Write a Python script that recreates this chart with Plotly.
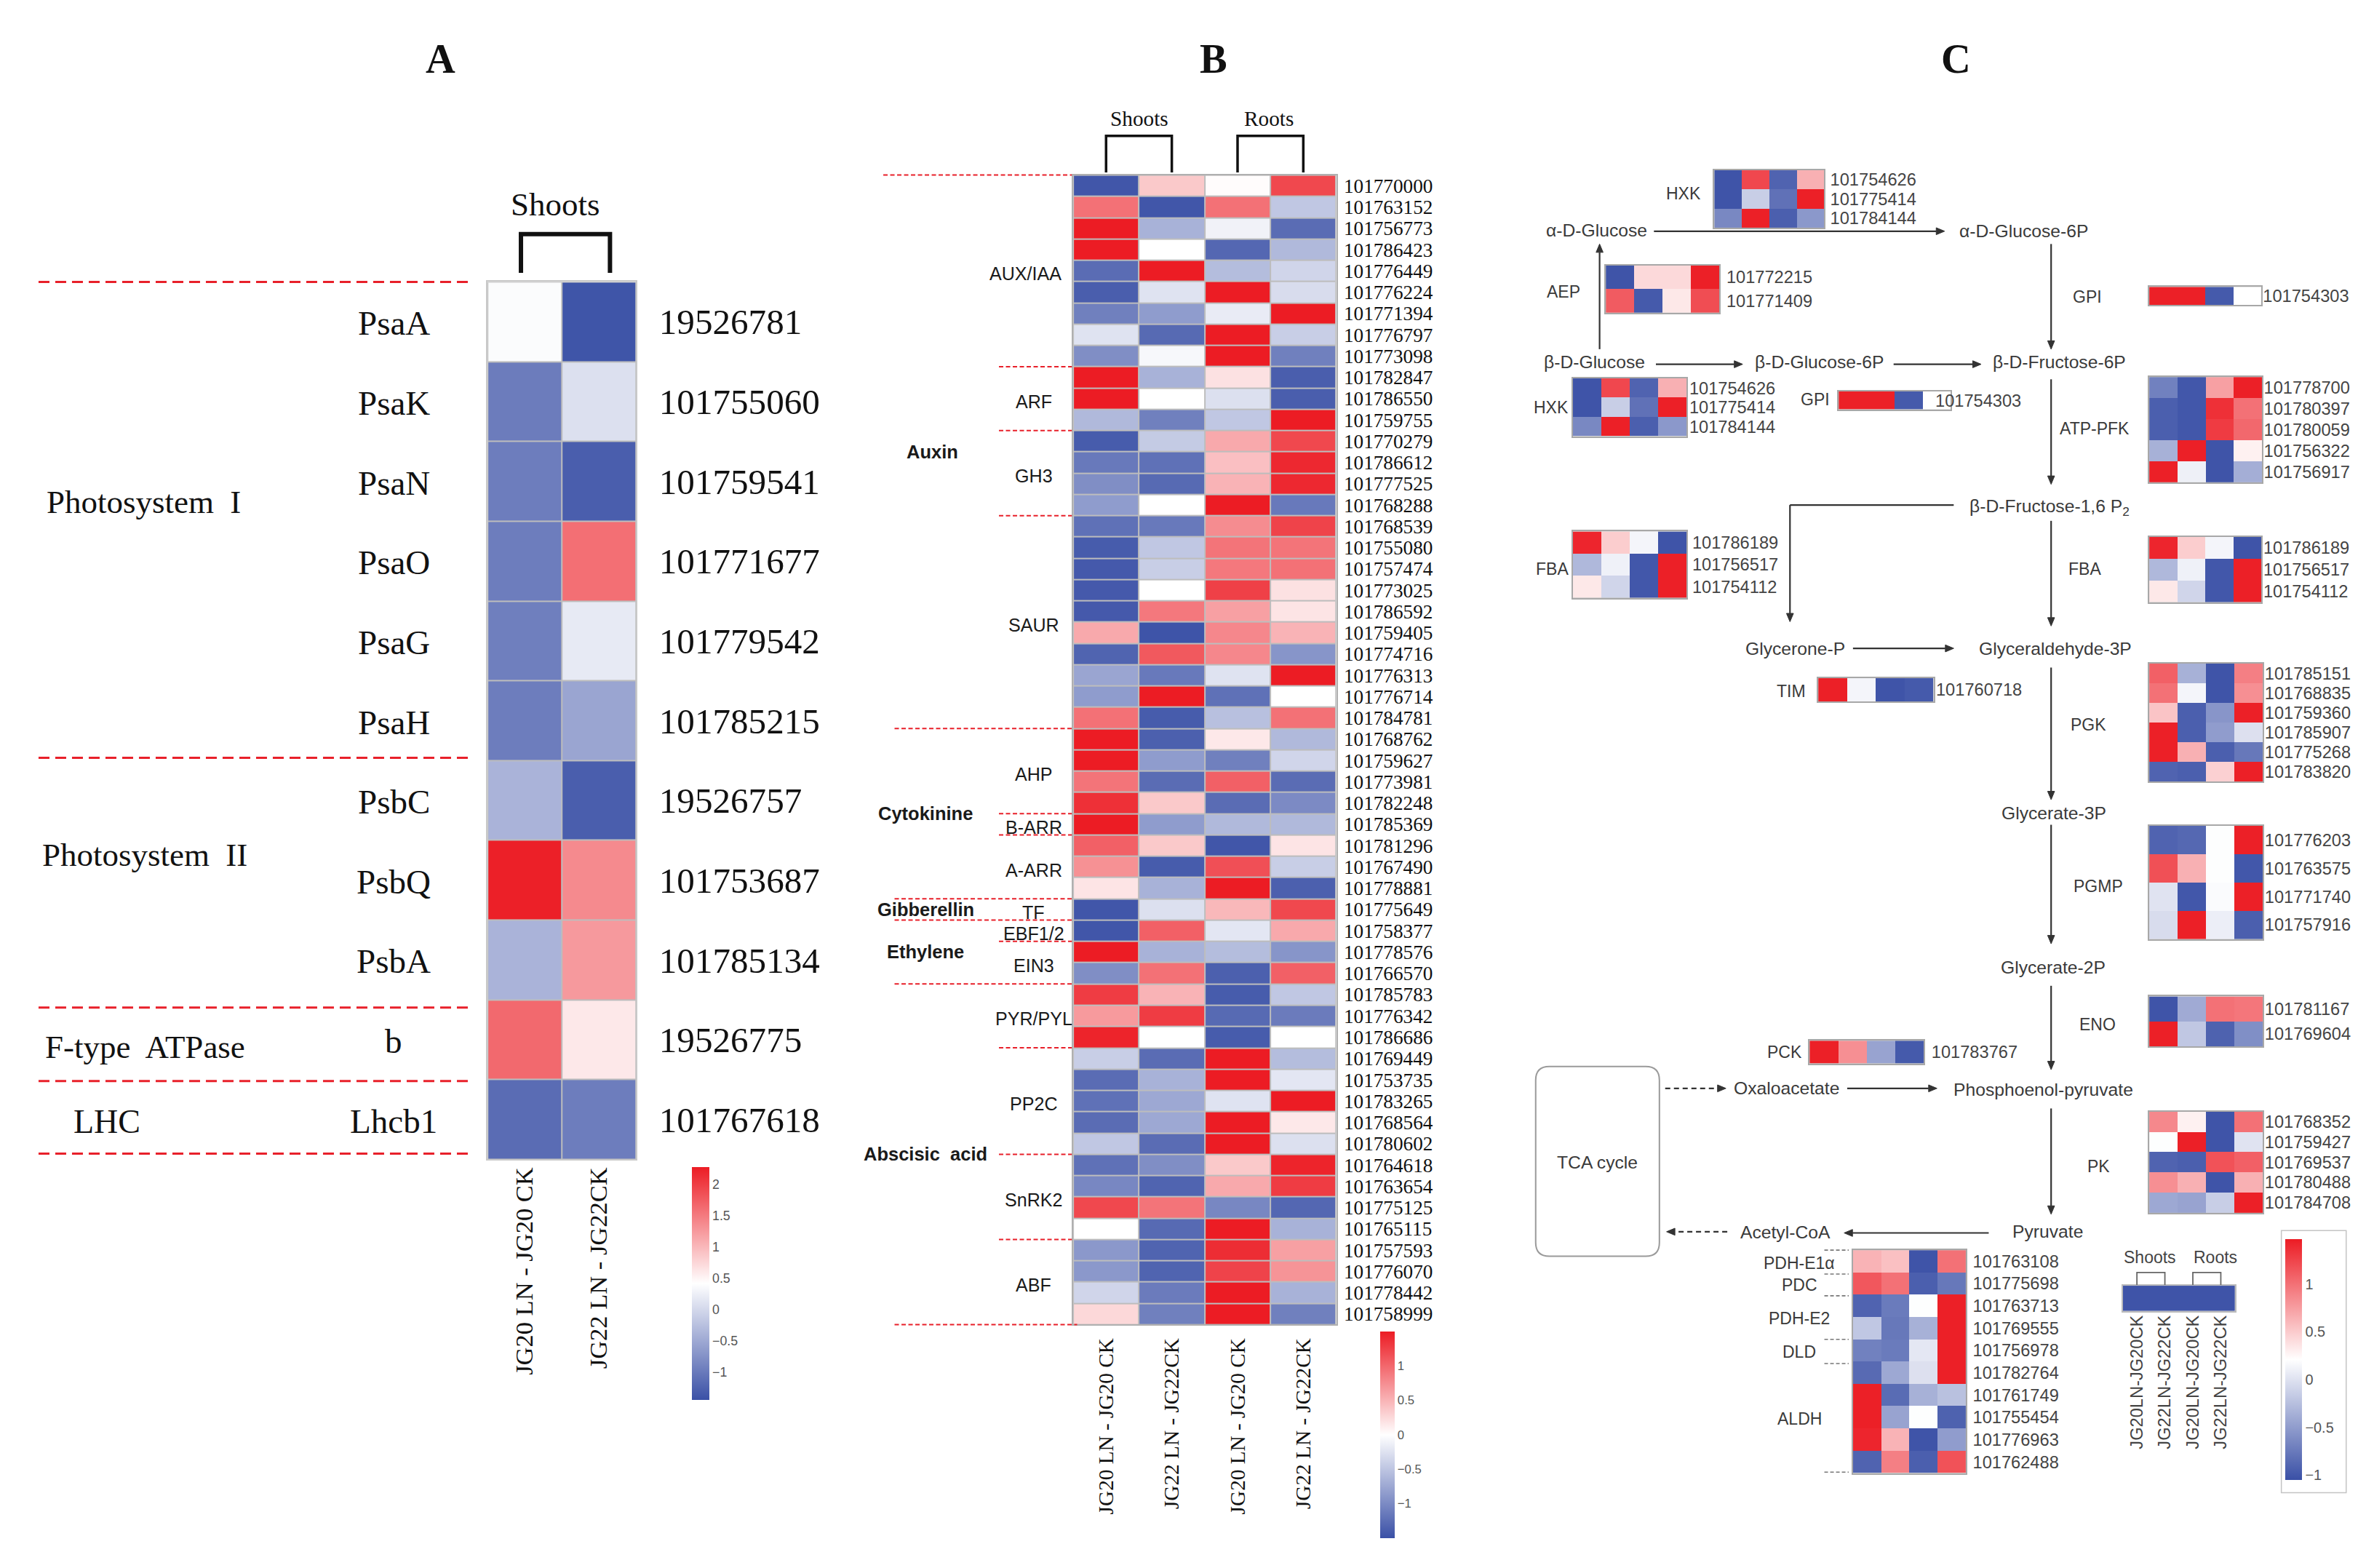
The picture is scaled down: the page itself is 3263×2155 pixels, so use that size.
import plotly.graph_objects as go

# ---------------- DATA ----------------
# Panel A
A_genes = ["PsaA", "PsaK", "PsaN", "PsaO", "PsaG", "PsaH", "PsbC", "PsbQ", "PsbA", "b", "Lhcb1"]
A_ids = ["19526781", "101755060", "101759541", "101771677", "101779542", "101785215",
         "19526757", "101753687", "101785134", "19526775", "101767618"]
A_cols = ["JG20 LN - JG20 CK", "JG22 LN - JG22CK"]
A_jg20 = [0.38, -0.98, -0.97, -0.97, -0.95, -0.97, -0.39, 2.25, -0.39, 1.65, -1.15]
A_jg22 = [-1.40, 0.08, -1.30, 1.60, 0.19, -0.54, -1.30, 1.38, 1.25, 0.60, -0.97]
A_cbar_ticks = [2, 1.5, 1, 0.5, 0, -0.5, -1]

# Panel B
B_ids = ["101770000", "101763152", "101756773", "101786423", "101776449", "101776224", "101771394",
         "101776797", "101773098", "101782847", "101786550", "101759755", "101770279", "101786612",
         "101777525", "101768288", "101768539", "101755080", "101757474", "101773025", "101786592",
         "101759405", "101774716", "101776313", "101776714", "101784781", "101768762", "101759627",
         "101773981", "101782248", "101785369", "101781296", "101767490", "101778881", "101775649",
         "101758377", "101778576", "101766570", "101785783", "101776342", "101786686", "101769449",
         "101753735", "101783265", "101768564", "101780602", "101764618", "101763654", "101775125",
         "101765115", "101757593", "101776070", "101778442", "101758999"]
B_cols = ["JG20 LN - JG20 CK", "JG22 LN - JG22CK", "JG20 LN - JG20 CK", "JG22 LN - JG22CK"]
B_shoot_jg20 = [-1.45, 0.94, 1.5, 1.5, -1.26, -1.38, -1.09, -0.24, -0.97, 1.5, 1.5, -0.6, -1.4, -1.15,
                -0.97, -0.85, -1.22, -1.4, -1.42, -1.42, -1.42, 0.57, -1.33, -0.77, -0.85, 0.94, 1.5,
                1.5, 0.92, 1.37, 1.5, 1.05, 0.73, 0.18, -1.45, -1.45, 1.5, -0.97, 1.29, 0.67, 1.45,
                -0.42, -1.26, -1.22, -1.26, -0.48, -1.22, -1.03, 1.21, 0.0, -0.88, -0.88, -0.36, 0.26]
B_shoot_jg22 = [0.36, -1.45, -0.66, 0.0, 1.5, -0.24, -0.85, -1.28, -0.06, -0.66, 0.0, -1.09, -0.45,
                -1.22, -1.28, 0.0, -1.15, -0.48, -0.42, 0.0, 0.89, -1.47, 1.1, -1.15, 1.5, -1.4, -1.36,
                -0.85, -1.26, 0.36, -0.85, 0.36, -1.4, -0.66, -0.27, 1.05, -0.66, 0.94, 0.5, 1.29, 0.0,
                -1.26, -0.66, -0.75, -0.75, -1.26, -0.97, -1.33, 0.92, -1.28, -1.33, -1.33, -1.13, -1.09]
B_root_jg20 = [0.02, 0.94, -0.11, -1.3, -0.57, 1.5, -0.17, 1.5, 1.5, 0.2, -0.27, -0.48, 0.57, 0.42,
               0.5, 1.5, 0.76, 0.92, 0.89, 1.26, 0.63, 0.79, 0.79, -0.24, -1.22, -0.54, 0.15, -1.09,
               1.05, -1.26, -0.6, -1.45, 1.16, 1.5, 0.47, -0.21, -0.57, -1.36, -1.4, -1.28, -1.4, 1.5,
               1.5, -0.24, 1.5, 1.5, 0.36, 0.57, -1.03, 1.5, 1.39, 1.24, 1.5, 1.5]
B_root_jg22 = [1.21, -0.48, -1.26, -0.6, -0.36, -0.3, 1.5, -0.42, -1.09, -1.38, -1.38, 1.5, 1.21, 1.42,
               1.42, -1.15, 1.24, 0.92, 0.94, 0.2, 0.18, 0.5, -0.91, 1.5, 0.0, 0.94, -0.6, -0.36, -1.26,
               -1.0, -0.6, 0.18, -0.42, -1.36, 1.21, 0.57, -0.91, 1.05, -0.48, -1.13, 0.0, -0.57, -0.21,
               1.5, 0.15, -0.27, 1.45, 1.29, -1.3, -0.66, 0.63, 0.71, -0.66, -1.09]
# families: (name, first row, last row, hormone class)
B_families = [("AUX/IAA", 0, 8, "Auxin"), ("ARF", 9, 11, "Auxin"), ("GH3", 12, 15, "Auxin"),
              ("SAUR", 16, 25, "Auxin"), ("AHP", 26, 29, "Cytokinine"), ("B-ARR", 30, 30, "Cytokinine"),
              ("A-ARR", 31, 33, "Cytokinine"), ("TF", 34, 34, "Gibberellin"), ("EBF1/2", 35, 35, "Ethylene"),
              ("EIN3", 36, 37, "Ethylene"), ("PYR/PYL", 38, 40, "Abscisic  acid"),
              ("PP2C", 41, 45, "Abscisic  acid"), ("SnRK2", 46, 49, "Abscisic  acid"),
              ("ABF", 50, 53, "Abscisic  acid")]
B_cbar_ticks = [1, 0.5, 0, -0.5, -1]

# Panel C (columns: JG20 shoots, JG22 shoots, JG20 roots, JG22 roots)
HXK_ids = ["101754626", "101775414", "101784144"]
HXK_vals = [[-1.02, 1.23, -0.91, 0.65], [-1.02, -0.14, -0.81, 1.45], [-0.65, 1.45, -0.94, -0.53]]
AEP_ids = ["101772215", "101771409"]
AEP_vals = [[-1.02, 0.42, 0.42, 1.45], [1.12, -0.98, 0.34, 1.20]]
GPI_ids = ["101754303"]
GPI_vals = [[1.45, 1.45, -0.98, 0.21]]
PFK_ids = ["101778700", "101780397", "101780059", "101756322", "101756917"]
PFK_vals = [[-0.70, -1.0, 0.74, 1.45], [-0.94, -1.0, 1.36, 1.0], [-0.94, -1.0, 1.30, 1.05],
            [-0.35, 1.45, -1.02, 0.29], [1.45, 0.10, -1.02, -0.37]]
FBA_ids = ["101786189", "101756517", "101754112"]
FBA_vals = [[1.42, 0.49, 0.14, -1.02], [-0.30, 0.11, -1.0, 1.45], [0.34, -0.09, -1.0, 1.45]]
TIM_ids = ["101760718"]
TIM_vals = [[1.45, 0.14, -1.02, -0.98]]
PGK_ids = ["101785151", "101768835", "101759360", "101785907", "101775268", "101783820"]
PGK_vals = [[1.09, -0.35, -1.02, 0.92], [1.0, 0.14, -1.02, 0.83], [0.54, -0.94, -0.55, 1.45],
            [1.45, -0.94, -0.50, -0.01], [1.45, 0.65, -0.94, -0.76], [-0.91, -0.94, 0.47, 1.45]]
PGMP_ids = ["101776203", "101763575", "101771740", "101757916"]
PGMP_vals = [[-0.91, -0.88, 0.20, 1.45], [1.18, 0.65, 0.20, -1.0], [0.01, -1.0, 0.18, 1.45],
             [-0.04, 1.45, 0.09, -0.94]]
ENO_ids = ["101781167", "101769604"]
ENO_vals = [[-1.02, -0.40, 1.0, 0.97], [1.45, -0.19, -0.92, -0.60]]
PK_ids = ["101768352", "101759427", "101769537", "101780488", "101784708"]
PK_vals = [[0.87, 0.29, -1.02, 1.0], [0.20, 1.45, -1.02, 0.01], [-0.91, -0.94, 1.17, 1.09],
           [0.83, 0.65, -1.02, 0.65], [-0.42, -0.45, -0.14, 1.45]]
PCK_ids = ["101783767"]
PCK_vals = [[1.45, 0.83, -0.45, -0.98]]
PDH_ids = ["101763108", "101775698", "101763713", "101769555", "101756978", "101782764",
           "101761749", "101755454", "101776963", "101762488"]
PDH_vals = [[0.63, 0.56, -1.02, 1.0], [1.14, 1.0, -0.94, -0.76], [-0.91, -0.74, 0.20, 1.45],
            [-0.19, -0.76, -0.35, 1.45], [-0.70, -0.74, 0.04, 1.45], [-0.86, -0.42, -0.01, 1.45],
            [1.45, -0.85, -0.35, -0.24], [1.45, -0.45, 0.20, -0.92], [1.42, 0.63, -1.02, -0.50],
            [-0.91, 0.92, -0.94, 1.17]]
PDH_groups = [("PDH-E1α", 0, 0), ("PDC", 1, 1), ("PDH-E2", 2, 3), ("DLD", 4, 4), ("ALDH", 5, 9)]
C_legend_cols = ["JG20LN-JG20CK", "JG22LN-JG22CK", "JG20LN-JG20CK", "JG22LN-JG22CK"]
C_legend_vals = [[-1.02, -1.02, -1.02, -1.02]]
C_cbar_ticks = [1, 0.5, 0, -0.5, -1]

# ---------------- HELPERS ----------------
S = 3263 / 1560.0
H = 2155 / S


def fx(x):
    return x / 1560.0


def fy(y):
    return 1 - y / H


def fs(d):
    return d * S


BWR = [[0, '#3a50a6'], [0.5, '#ffffff'], [1, '#ec1c24']]
SERIF = 'Liberation Serif, Times New Roman, serif'
SANS = 'Liberation Sans, Arial, sans-serif'
CTXT = '#3a3a3a'
ACOL = '#333333'

fig = go.Figure()
axes = {}
ann = []
shapes = []
counter = [0]


def heat(z, box, zr, ids=None, idfont=None, idstand=0, xt=None, xfont=None, xstand=0,
         gap=0, frame='#a8a8a8', framew=1.5, cbar=None):
    counter[0] += 1
    k = counter[0]
    xa = 'x' if k == 1 else 'x%d' % k
    ya = 'y' if k == 1 else 'y%d' % k
    xkey = 'xaxis' if k == 1 else 'xaxis%d' % k
    ykey = 'yaxis' if k == 1 else 'yaxis%d' % k
    nr, nc = len(z), len(z[0])
    x0, y0, x1, y1 = box
    tr = go.Heatmap(z=z, x=list(range(nc)), y=list(range(nr)), colorscale=BWR,
                    zmin=zr[0], zmax=zr[1], xgap=gap, ygap=gap,
                    showscale=cbar is not None, hoverinfo='skip', xaxis=xa, yaxis=ya)
    if cbar is not None:
        tr.colorbar = cbar
    fig.add_trace(tr)
    xd = dict(domain=[fx(x0), fx(x1)], range=[-0.5, nc - 0.5], anchor=ya, showgrid=False,
              zeroline=False, ticks='', showline=True, mirror=True, linecolor=frame,
              linewidth=framew, fixedrange=True, automargin=False,
              showticklabels=xt is not None)
    if xt is not None:
        xd.update(tickmode='array', tickvals=list(range(nc)), ticktext=xt, tickangle=-90,
                  tickfont=xfont, ticklabelstandoff=int(round(xstand)), side='bottom')
    yd = dict(domain=[fy(y1), fy(y0)], range=[nr - 0.5, -0.5], anchor=xa, showgrid=False,
              zeroline=False, ticks='', showline=True, mirror=True, linecolor=frame,
              linewidth=framew, fixedrange=True, automargin=False, side='right',
              showticklabels=ids is not None)
    if ids is not None:
        yd.update(tickmode='array', tickvals=list(range(nr)), ticktext=ids, tickfont=idfont,
                  ticklabelstandoff=int(round(idstand)))
    axes[xkey] = xd
    axes[ykey] = yd


def text(x, y, s, size, font=SANS, color='#222', xanchor='center', yanchor='middle'):
    ann.append(dict(x=fx(x), y=fy(y), xref='paper', yref='paper', text=s, showarrow=False,
                    xanchor=xanchor, yanchor=yanchor,
                    font=dict(family=font, size=fs(size), color=color)))


def line(x0, y0, x1, y1, color, w, dash=None):
    d = dict(color=color, width=w)
    if dash:
        d['dash'] = dash
    shapes.append(dict(type='line', xref='paper', yref='paper', x0=fx(x0), y0=fy(y0),
                       x1=fx(x1), y1=fy(y1), line=d))


def arrow(xt, yt, xh, yh, color=ACOL, w=2.2, dashed=False, hl=5.5, hw=2.3):
    L = ((xh - xt) ** 2 + (yh - yt) ** 2) ** 0.5
    ux, uy = (xh - xt) / L, (yh - yt) / L
    bx, by = xh - ux * hl, yh - uy * hl
    line(xt, yt, bx, by, color, w, dash='7px,5px' if dashed else None)
    px_, py_ = -uy, ux
    pts = [(xh, yh), (bx + px_ * hw, by + py_ * hw), (bx - px_ * hw, by - py_ * hw)]
    path = 'M %f %f L %f %f L %f %f Z' % (fx(pts[0][0]), fy(pts[0][1]), fx(pts[1][0]),
                                          fy(pts[1][1]), fx(pts[2][0]), fy(pts[2][1]))
    shapes.append(dict(type='path', xref='paper', yref='paper', path=path, fillcolor=color,
                       line=dict(color=color, width=1)))


def bracket(xa_, xb_, ytop, ybot, color, w):
    path = 'M %f %f L %f %f L %f %f L %f %f' % (fx(xa_), fy(ybot), fx(xa_), fy(ytop),
                                                  fx(xb_), fy(ytop), fx(xb_), fy(ybot))
    shapes.append(dict(type='path', xref='paper', yref='paper', path=path,
                       line=dict(color=color, width=w)))


def col_centers(box, nc):
    x0, _, x1, _ = box
    return [x0 + (i + 0.5) * (x1 - x0) / nc for i in range(nc)]


def row_center(box, nr, r):
    _, y0, _, y1 = box
    return y0 + (r + 0.5) * (y1 - y0) / nr


def row_edge(box, nr, r):
    _, y0, _, y1 = box
    return y0 + r * (y1 - y0) / nr


def cbar(xl, yt, yb, th, ticks, size):
    return dict(x=fx(xl), xanchor='left', y=fy(yt), yanchor='top', len=(yb - yt) / H,
                lenmode='fraction', thickness=th * S, thicknessmode='pixels', xpad=0, ypad=0,
                outlinewidth=0, tickmode='array', tickvals=ticks,
                ticktext=[('%g' % t).replace('-', '−') for t in ticks], ticks='',
                tickfont=dict(family=SANS, size=fs(size), color='#555'))


# ---------------- TITLES ----------------
for lab, xx in (("A", 285.7), ("B", 793.4), ("C", 1281.3)):
    text(xx, 35, '<b>%s</b>' % lab, 27, font=SERIF, color='#111')

# ---------------- PANEL A ----------------
A_box = (316.6, 181.4, 414.0, 758.0)
A_z = [[a, b] for a, b in zip(A_jg20, A_jg22)]
heat(A_z, A_box, (-1.45, 2.28), ids=A_ids,
     idfont=dict(family=SERIF, size=fs(23.5), color='#111'), idstand=20,
     xt=A_cols, xfont=dict(family=SERIF, size=fs(16.5), color='#111'), xstand=-5,
     gap=2, frame='#c8c8c8', framew=2, cbar=cbar(451, 763, 916, 11.5, A_cbar_ticks, 8.5))
text(361, 130.5, 'Shoots', 21.5, font=SERIF, color='#111')
bracket(338.5, 397, 150, 175.5, '#111', 6)
for i, g in enumerate(A_genes):
    text(255, row_center(A_box, len(A_genes), i) + 1, g, 22.5, font=SERIF, color='#111')
text(26, 326, 'Photosystem  I', 21.5, font=SERIF, color='#111', xanchor='left')
text(23, 558, 'Photosystem  II', 21.5, font=SERIF, color='#111', xanchor='left')
text(25, 684, 'F-type  ATPase', 21.5, font=SERIF, color='#111', xanchor='left')
text(66.5, 733, 'LHC', 22, font=SERIF, color='#111')
for yy in (181.4, 494.1, 658.2, 706.5, 754.2):
    line(21.5, yy, 304, yy, '#e8202a', 3, dash='15px,8px')

# ---------------- PANEL B ----------------
B_box = (701.4, 111.2, 874.2, 866.5)
B_z = [list(r) for r in zip(B_shoot_jg20, B_shoot_jg22, B_root_jg20, B_root_jg22)]
heat(B_z, B_box, (-1.5, 1.5), ids=B_ids,
     idfont=dict(family=SERIF, size=fs(13), color='#111'), idstand=3,
     xt=B_cols, xfont=dict(family=SERIF, size=fs(14), color='#111'), xstand=5,
     gap=2, frame='#b0b0b0', framew=2, cbar=cbar(903, 871, 1006.7, 9.5, B_cbar_ticks, 8))
bc = col_centers(B_box, 4)
text(744.9, 73.9, 'Shoots', 14, font=SERIF, color='#111')
text(829.8, 73.9, 'Roots', 14, font=SERIF, color='#111')
bracket(bc[0], bc[1], 85.5, 109.5, '#111', 3.5)
bracket(bc[2], bc[3], 85.5, 109.5, '#111', 3.5)
nB = len(B_ids)
for j, (fam, r0, r1, cls) in enumerate(B_families):
    yc = (row_edge(B_box, nB, r0) + row_edge(B_box, nB, r1 + 1)) / 2.0
    xc = 670 if fam == "AUX/IAA" else 675.5
    text(xc, yc + 2, fam, 12, font=SANS, color='#1a1a1a')
    ytop = row_edge(B_box, nB, r0)
    if j == 0:
        line(576.6, ytop, 700.5, ytop, '#e8202a', 2, dash='6px,3.5px')
    else:
        long_ = B_families[j - 1][3] != cls
        line(584 if long_ else 652.6, ytop, 700.5, ytop, '#e8202a', 2, dash='6px,3.5px')
ybot = row_edge(B_box, nB, nB)
line(584, ybot, 704, ybot, '#e8202a', 2, dash='6px,3.5px')
classes = []
for fam, r0, r1, cls in B_families:
    if classes and classes[-1][0] == cls:
        classes[-1][2] = r1
    else:
        classes.append([cls, r0, r1])
for cls, r0, r1 in classes:
    yc = (row_edge(B_box, nB, r0) + row_edge(B_box, nB, r1 + 1)) / 2.0
    xc = 609 if cls == "Auxin" else 604.5
    text(xc, yc, '<b>%s</b>' % cls, 12.2, font=SANS, color='#1a1a1a')

# ---------------- PANEL C ----------------
CR = (-1.05, 1.47)
cid = dict(family=SANS, size=fs(11.3), color='#444')
heat(HXK_vals, (1122.7, 108.0, 1194.8, 145.8), CR, ids=HXK_ids, idfont=cid, idstand=2)
heat(AEP_vals, (1051.4, 170.6, 1126.1, 201.6), CR, ids=AEP_ids, idfont=cid, idstand=3)
heat(HXK_vals, (1029.6, 244.8, 1104.6, 282.8), CR, ids=HXK_ids, idfont=cid, idstand=-3)
heat(GPI_vals, (1204.4, 253.2, 1278.1, 265.1), CR)
heat(GPI_vals, (1408.5, 184.7, 1482.0, 196.6), CR, ids=GPI_ids, idfont=cid, idstand=-4)
heat(PFK_vals, (1408.5, 243.9, 1482.6, 313.0), CR, ids=PFK_ids, idfont=cid, idstand=-4)
heat(FBA_vals, (1029.6, 345.4, 1104.6, 389.1), CR, ids=FBA_ids, idfont=cid, idstand=1)
heat(FBA_vals, (1408.5, 348.8, 1482.3, 391.9), CR, ids=FBA_ids, idfont=cid, idstand=-4)
heat(TIM_vals, (1191.0, 441.8, 1266.7, 457.0), CR, ids=TIM_ids, idfont=cid, idstand=-3)
heat(PGK_vals, (1408.5, 432.2, 1483.2, 509.8), CR, ids=PGK_ids, idfont=cid, idstand=-4)
heat(PGMP_vals, (1408.5, 538.8, 1483.2, 613.2), CR, ids=PGMP_ids, idfont=cid, idstand=-4)
heat(ENO_vals, (1408.5, 650.9, 1483.2, 683.7), CR, ids=ENO_ids, idfont=cid, idstand=-4)
heat(PK_vals, (1408.5, 726.6, 1483.2, 793.1), CR, ids=PK_ids, idfont=cid, idstand=-4)
heat(PCK_vals, (1185.3, 680.0, 1260.4, 695.0), CR, ids=PCK_ids, idfont=cid, idstand=4)
PDH_box = (1213.8, 817.6, 1288.0, 964.1)
heat(PDH_vals, PDH_box, CR, ids=PDH_ids, idfont=cid, idstand=3)
LEG_box = (1391.2, 841.0, 1464.7, 857.5)
heat(C_legend_vals, LEG_box, CR, xt=C_legend_cols,
     xfont=dict(family=SANS, size=fs(11.3), color='#444'), xstand=-5, frame='#bbbbbb',
     cbar=cbar(1497.8, 810.3, 968.7, 11.2, C_cbar_ticks, 9.5))
text(1267, 259.5, GPI_ids[0], 11.3, color='#444', xanchor='left')

for lab, xx, yy in (("HXK", 1102.7, 123.3), ("AEP", 1023.5, 188.1), ("HXK", 1015.4, 263.7),
                    ("GPI", 1189.2, 258.6), ("GPI", 1367.9, 191.2), ("ATP-PFK", 1372.8, 277.8),
                    ("FBA", 1016.0, 370.2), ("FBA", 1365.9, 370.2), ("TIM", 1173.0, 450.3),
                    ("PGK", 1368.5, 472.3), ("PGMP", 1375.0, 578.6), ("ENO", 1374.5, 669.3),
                    ("PK", 1375.0, 762.5), ("PCK", 1168.8, 687.7)):
    text(xx, yy, lab, 11, color=CTXT)
nP = len(PDH_ids)
for g, r0, r1 in PDH_groups:
    yc = (row_edge(PDH_box, nP, r0) + row_edge(PDH_box, nP, r1 + 1)) / 2.0
    text(1178.5, yc + 1, g, 11, color=CTXT)
for yy in (817.6, 833.3, 847.6, 876.2, 892.1, 963.5):
    line(1195, yy, 1211, yy, '#777777', 1.6, dash='5px,3px')

for lab, xx, yy in (("α-D-Glucose", 1045.4, 147.5), ("α-D-Glucose-6P", 1326.0, 148.0),
                    ("β-D-Glucose", 1043.8, 234.1), ("β-D-Glucose-6P", 1191.7, 234.1),
                    ("β-D-Fructose-6P", 1349.5, 234.0),
                    ("β-D-Fructose-1,6 P<sub>2</sub>", 1343.0, 329.5),
                    ("Glycerone-P", 1175.9, 422.4), ("Glyceraldehyde-3P", 1346.9, 422.4),
                    ("Glycerate-3P", 1346.0, 530.5), ("Glycerate-2P", 1345.2, 632.0),
                    ("Phosphoenol-pyruvate", 1339.0, 712.0), ("Pyruvate", 1341.7, 805.4),
                    ("Acetyl-CoA", 1169.2, 805.7), ("Oxaloacetate", 1170.2, 711.3),
                    ("TCA cycle", 1045.8, 759.7)):
    text(xx, yy, lab, 11.8, color=CTXT)

# arrows
arrow(1083, 148.1, 1274, 148.1)
arrow(1047.3, 225.6, 1047.3, 156.5)
arrow(1084.3, 235.5, 1141.3, 235.5)
arrow(1240.5, 235.5, 1298, 235.5)
arrow(1344, 156.5, 1344, 225.6)
arrow(1344, 245.4, 1344, 314.4)
line(1280, 328, 1172.4, 328, ACOL, 2.2)
arrow(1172.4, 328, 1172.4, 404.7)
arrow(1344, 338.4, 1344, 407.5)
arrow(1213.8, 422.2, 1280, 422.2)
arrow(1344, 434.8, 1344, 521.6)
arrow(1344, 538.1, 1344, 616.3)
arrow(1344, 643.9, 1344, 699)
arrow(1344, 724.5, 1344, 794)
arrow(1210, 711.3, 1269, 711.3)
arrow(1303, 806.3, 1208, 806.3)
arrow(1090.4, 711.3, 1130.3, 711.3, dashed=True)
arrow(1131.2, 805.5, 1091.3, 805.5, dashed=True)

# TCA rounded box
x0, y0, x1, y1, r = 1005.3, 696.9, 1086.6, 821.6, 9.0
pts = [('M', x0 + r, y0), ('L', x1 - r, y0), ('Q', x1, y0, x1, y0 + r), ('L', x1, y1 - r),
       ('Q', x1, y1, x1 - r, y1), ('L', x0 + r, y1), ('Q', x0, y1, x0, y1 - r),
       ('L', x0, y0 + r), ('Q', x0, y0, x0 + r, y0)]
path = ''
for p in pts:
    if p[0] == 'Q':
        path += 'Q %f %f %f %f ' % (fx(p[1]), fy(p[2]), fx(p[3]), fy(p[4]))
    else:
        path += '%s %f %f ' % (p[0], fx(p[1]), fy(p[2]))
path += 'Z'
shapes.append(dict(type='path', xref='paper', yref='paper', path=path,
                   line=dict(color='#9a9a9a', width=2)))

# legend (shoots / roots) and colorbar frame
lc = col_centers(LEG_box, 4)
text(1409, 822.5, 'Shoots', 11, color='#444')
text(1452.1, 822.5, 'Roots', 11, color='#444')
bracket(lc[0], lc[1], 832.3, 840.5, '#666666', 1.8)
bracket(lc[2], lc[3], 832.3, 840.5, '#666666', 1.8)
shapes.append(dict(type='rect', xref='paper', yref='paper', x0=fx(1495.3), x1=fx(1537.9),
                   y0=fy(977), y1=fy(804.8), line=dict(color='#c4c4c4', width=1.5)))

fig.update_layout(width=3263, height=2155, margin=dict(l=0, r=0, t=0, b=0, pad=0),
                  paper_bgcolor='white', plot_bgcolor='#bdbdbd', showlegend=False,
                  template='none', annotations=ann, shapes=shapes, **axes)
fig.write_html("out.html")
